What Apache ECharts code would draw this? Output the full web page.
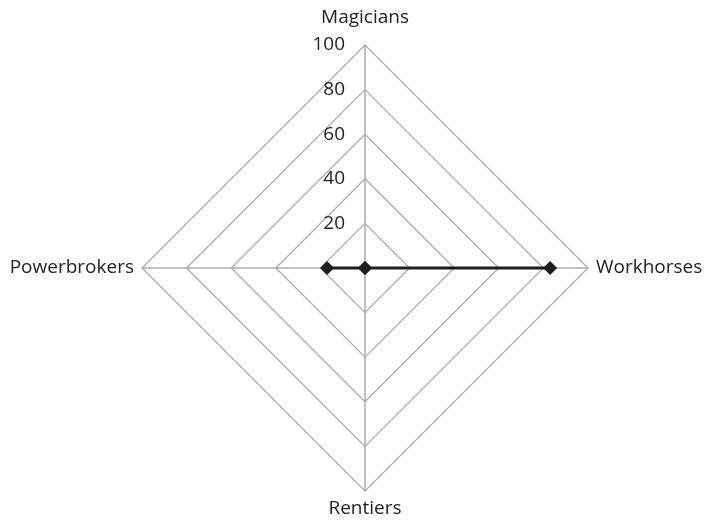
<!DOCTYPE html>
<html><head><meta charset="utf-8">
<script src="https://cdn.jsdelivr.net/npm/echarts@6/dist/echarts.min.js"></script>
<style>html,body{margin:0;padding:0;background:#fff}#c{width:706px;height:522px}</style>
</head><body><div id="c"></div>
<script>
// indicators listed counter-clockwise from the top (ECharts radar order)
const indicators = ['Magicians', 'Powerbrokers', 'Rentiers', 'Workhorses'];
const maxValue = 100;
const values = [0, 17, 0, 83];

const chart = echarts.init(document.getElementById('c'));
chart.setOption({
  animation: false,
  radar: {
    center: [365, 268],
    radius: 223,
    startAngle: 90,
    shape: 'polygon',
    splitNumber: 5,
    axisName: {
      color: '#222', fontFamily: 'Open Sans', fontSize: 19,
      formatter: (name) => name === 'Magicians' ? '{t|' + name + '}' : name,
      rich: { t: { color: '#222', fontFamily: 'Open Sans', fontSize: 19, padding: [0, 0, 10, 0] } }
    },
    nameGap: 8,
    splitLine: { lineStyle: { color: '#acacac', width: 1.3 } },
    splitArea: { show: false },
    axisLine: { lineStyle: { color: '#acacac', width: 1.5 } },
    axisLabel: { show: false },
    indicator: indicators.map((n, i) => i === 0
      ? { name: n, max: maxValue, min: 0,
          axisLabel: { show: true, showMinLabel: false, color: '#222', fontFamily: 'Open Sans', fontSize: 19, margin: 20 } }
      : { name: n, max: maxValue, min: 0 })
  },
  series: [{
    type: 'radar',
    symbol: 'diamond',
    symbolSize: 14,
    lineStyle: { color: '#1e1e1e', width: 3 },
    itemStyle: { color: '#1e1e1e' },
    data: [{ value: values }]
  }]
});
</script></body></html>
